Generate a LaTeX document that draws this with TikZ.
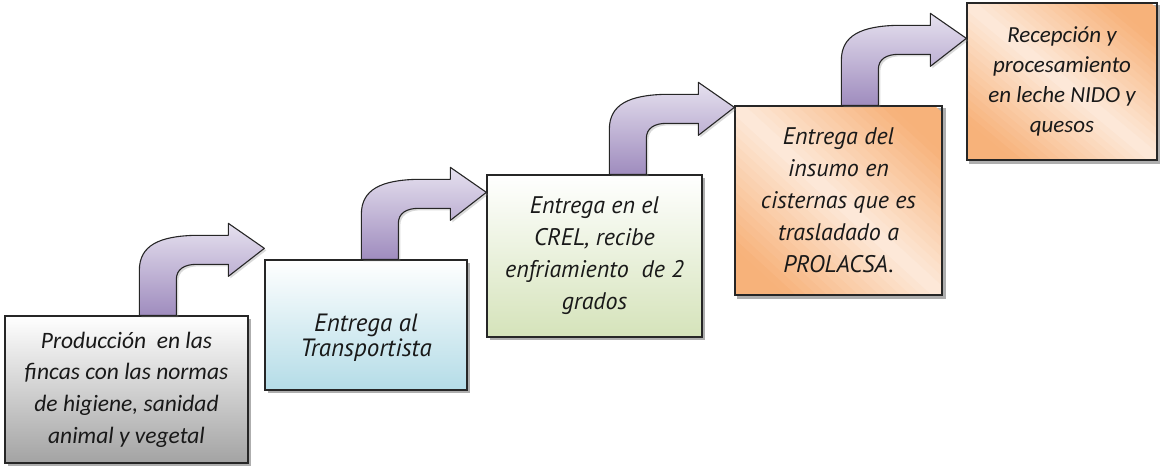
\documentclass[tikz,border=0pt]{standalone}
\usepackage{fontspec}
\usetikzlibrary{shadows,calc,backgrounds}
\newfontfamily\calibrifont{Carlito}
\newfontfamily\corbelfont{PT Sans}
\definecolor{edge}{HTML}{262626}
\definecolor{arrowtop}{HTML}{E6E1EF}
\definecolor{arrowbot}{HTML}{9F8CBE}
\definecolor{grayend}{HTML}{A3A3A3}
\definecolor{blueend}{HTML}{B4DCE7}
\definecolor{greenend}{HTML}{D5E3BA}
\definecolor{orangeend}{HTML}{F7B27A}
\definecolor{orangemid}{HTML}{FDEADB}
\begin{document}
\begin{tikzpicture}[x=1pt,y=1pt,
    stepbox/.style={draw=edge,line width=1.3pt,inner sep=0pt,align=center,text=black!90},
    shadowed/.style={drop shadow={shadow xshift=3pt,shadow yshift=-3pt,opacity=.45,fill=black!70}},
    calfont/.style={font=\calibrifont\itshape\fontsize{23.5}{31.7}\selectfont},
    corfont/.style={font=\corbelfont\itshape\fontsize{24}{32}\selectfont},
    bentarrow/.style={draw=edge,line width=1.1pt,line join=round,top color=arrowtop,bottom color=arrowbot,
      drop shadow={shadow xshift=2pt,shadow yshift=-2pt,opacity=.3}}]
  \useasboundingbox (0,0) rectangle (1160,468);
  % cajas
  \node[stepbox,shadowed,calfont,top color=white,bottom color=grayend,minimum width=243pt,minimum height=147pt]
    (prod) at (126.5,78.5) {Producción \ en las\\fincas con las normas\\de higiene, sanidad\\animal y vegetal};
  \node[stepbox,shadowed,top color=white,bottom color=blueend,minimum width=202pt,minimum height=130pt]
    (transp) at (366,143) {};
  \node[align=center,text=black!90,font=\corbelfont\itshape\fontsize{25}{25}\selectfont]
    (transpText) at ([yshift=-13pt]transp.center) {Entrega al\\Transportista};
  \node[stepbox,shadowed,corfont,top color=white,bottom color=greenend,minimum width=215pt,minimum height=162pt]
    (crel) at (594.5,212) {Entrega en el\\CREL, recibe\\enfriamiento \ de 2\\grados};
  \node[stepbox,corfont,minimum width=207pt,minimum height=189pt]
    (cisterna) at (838.5,267.5) {Entrega del\\insumo en\\cisternas que es\\trasladado a\\PROLACSA.};
  \node[stepbox,minimum width=190pt,minimum height=157pt,font=\calibrifont\itshape\fontsize{23}{30}\selectfont]
    (nido) at (1062,386.5) {Recepción y\\procesamiento\\en leche NIDO y\\quesos};
  % relleno naranja en diagonal
  \begin{scope}[on background layer]
    \foreach \n in {cisterna,nido}{
      \fill[black!70,opacity=.45] ([shift={(3pt,-3pt)}]\n.south west) rectangle ([shift={(3pt,-3pt)}]\n.north east);
      \begin{scope}
        \clip (\n.south west) rectangle (\n.north east);
        \foreach \u in {0,0.05,...,1.95}{
          \pgfmathsetmacro\p{min(100,135*abs(\u+0.025-1))}
          \pgfmathsetmacro\w{\u+0.06}
          \fill[orangeend!\p!orangemid] ($(\n.south west)!\u!(\n.south east)$) -- ($(\n.south west)!\u!(\n.north west)$)
            -- ($(\n.south west)!\w!(\n.north west)$) -- ($(\n.south west)!\w!(\n.south east)$) -- cycle;
        }
      \end{scope}
    }
  \end{scope}
  % flechas
  \foreach \a/\b in {prod/transp,transp/crel,crel/cisterna,cisterna/nido}{
    \begin{scope}[shift={(\b.west |- \a.north)}]
      \draw[bentarrow] (-125,0) -- (-125,45) .. controls (-125,70) and (-105,79) .. (-70,80)
        -- (-36,80) -- (-36,92) -- (0,67) -- (-36,39) -- (-36,51) -- (-68,51)
        .. controls (-80,51) and (-88,46) .. (-88,36) -- (-88,0) -- cycle;
    \end{scope}
  }
\end{tikzpicture}
\end{document}
